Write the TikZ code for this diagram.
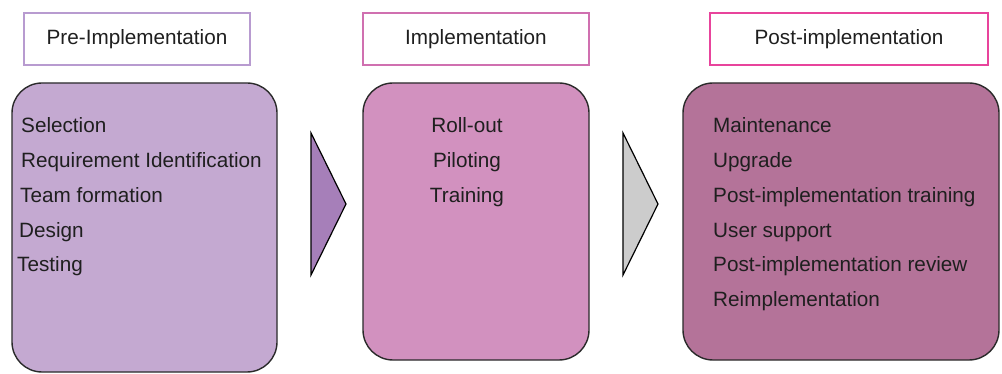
\documentclass[tikz,border=0pt]{standalone}
\usepackage{fontspec}
\setmainfont{Liberation Sans}
\definecolor{fillA}{HTML}{C4A9D1}
\definecolor{fillB}{HTML}{D291BF}
\definecolor{fillC}{HTML}{B47399}
\definecolor{arrA}{HTML}{A67FB9}
\definecolor{arrB}{HTML}{CCCCCC}
\definecolor{hdA}{HTML}{B89BD0}
\definecolor{hdB}{HTML}{D070B0}
\definecolor{hdC}{HTML}{E8449C}
\definecolor{edge}{HTML}{2A2A2A}
\tikzset{
  txt/.style={font=\fontsize{20.7}{24}\selectfont, text=black!88, inner sep=0pt},
  header/.style={draw=#1, line width=1.5pt, fill=white, inner sep=0pt},
  phase/.style={draw=edge, line width=1.4pt, fill=#1, rounded corners=30pt, inner sep=0pt},
  chevron/.style={draw=black, line width=1.2pt, fill=#1, line join=miter}
}
\begin{document}
\begin{tikzpicture}[x=1pt,y=-1pt]
\useasboundingbox (0,0) rectangle (1002,374);
% headers
\node[header=hdA, minimum width=226pt, minimum height=52pt] (h1) at (137,39) {};
\node[txt] (h1t) at (h1.center) {Pre-Implementation};
\node[header=hdB, minimum width=226pt, minimum height=52pt] (h2) at (476,39) {};
\node[txt] (h2t) at (h2.center) {Implementation};
\node[header=hdC, minimum width=278pt, minimum height=52pt] (h3) at (849,39) {};
\node[txt] (h3t) at (h3.center) {Post-implementation};
% phase boxes
\node[phase=fillA, minimum width=265pt, minimum height=289pt] (p1) at (144.5,227.5) {};
\node[phase=fillB, minimum width=226pt, minimum height=277pt] (p2) at (476,221.5) {};
\node[phase=fillC, minimum width=316pt, minimum height=277pt] (p3) at (841,221.5) {};
% chevrons
\coordinate (a1t) at (311,133); \coordinate (a1p) at (346,204); \coordinate (a1b) at (311,275);
\draw[chevron=arrA] (a1t) -- (a1p) -- (a1b) -- cycle;
\coordinate (a2t) at (623,133); \coordinate (a2p) at (658,204); \coordinate (a2b) at (623,275);
\draw[chevron=arrB] (a2t) -- (a2p) -- (a2b) -- cycle;
% texts box 1
\node[txt, anchor=base west] (s1) at (21,133) {Selection};
\node[txt, anchor=base west] (s2) at (21,167.7) {Requirement Identification};
\node[txt, anchor=base west] (s3) at (20,202.4) {Team formation};
\node[txt, anchor=base west] (s4) at (19,237.1) {Design};
\node[txt, anchor=base west] (s5) at (17,271.8) {Testing};
% texts box 2
\node[txt, anchor=base] (i1) at (467,133) {Roll-out};
\node[txt, anchor=base] (i2) at (467,167.7) {Piloting};
\node[txt, anchor=base] (i3) at (467,202.4) {Training};
% texts box 3
\node[txt, anchor=base west] (q1) at (713,133) {Maintenance};
\node[txt, anchor=base west] (q2) at (713,167.7) {Upgrade};
\node[txt, anchor=base west] (q3) at (713,202.4) {Post-implementation training};
\node[txt, anchor=base west] (q4) at (713,237.1) {User support};
\node[txt, anchor=base west] (q5) at (713,271.8) {Post-implementation review};
\node[txt, anchor=base west] (q6) at (713,306.5) {Reimplementation};
\end{tikzpicture}
\end{document}
